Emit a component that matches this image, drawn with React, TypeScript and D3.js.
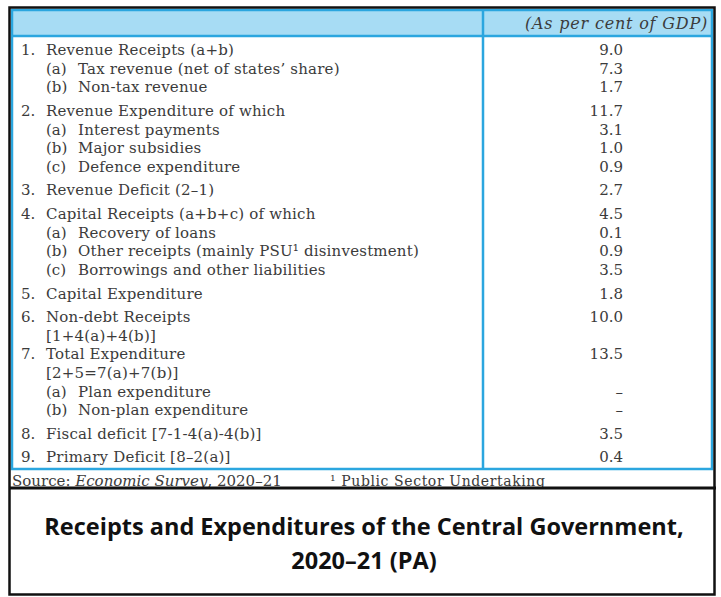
import * as d3 from 'd3';
import React from 'react';

// table content
const itemNumbers = ['1.', '(a)', '(b)', '2.', '(a)', '(b)', '(c)', '3.', '4.', '(a)', '(b)', '(c)', '5.', '6.', '', '7.', '', '(a)', '(b)', '8.', '9.'];
const itemLabels = [
  'Revenue Receipts (a+b)',
  'Tax revenue (net of states\u2019 share)',
  'Non-tax revenue',
  'Revenue Expenditure of which',
  'Interest payments',
  'Major subsidies',
  'Defence expenditure',
  'Revenue Deficit (2\u20131)',
  'Capital Receipts (a+b+c) of which',
  'Recovery of loans',
  'Other receipts (mainly PSU\u00b9 disinvestment)',
  'Borrowings and other liabilities',
  'Capital Expenditure',
  'Non-debt Receipts',
  '[1+4(a)+4(b)]',
  'Total Expenditure',
  '[2+5=7(a)+7(b)]',
  'Plan expenditure',
  'Non-plan expenditure',
  'Fiscal deficit [7-1-4(a)-4(b)]',
  'Primary Deficit [8\u20132(a)]',
];
const gdpShare = ['9.0', '7.3', '1.7', '11.7', '3.1', '1.0', '0.9', '2.7', '4.5', '0.1', '0.9', '3.5', '1.8', '10.0', '', '13.5', '', '\u2013', '\u2013', '3.5', '0.4'];
const headerLabel = '(As per cent of GDP)';
const titleLines = ['Receipts and Expenditures of the Central Government,', '2020\u201321 (PA)'];

const W = 721;
const H = 597;
const blue = '#2ba6df';
const textColor = '#3b3b3b';
const serif = '"DejaVu Serif", serif';

export default function App() {
  // each row takes one line unit, a new numbered item adds a small gap
  // (item 7 sits right under the continuation line of item 6)
  let units = 0;
  const rowUnits = itemNumbers.map((n, i) => {
    if (i > 0) {
      units += 1;
      if (/^\d\.$/.test(n) && n !== '7.') units += 0.27;
    }
    return units;
  });
  const y = d3.scaleLinear().domain([0, 1]).range([50, 68.6]);

  const isMain = (n: string) => n === '' || /^\d\.$/.test(n);

  return (
    <svg
      width={W}
      height={H}
      style={{ position: 'absolute', left: 0, top: 0, background: '#fff' }}
      fontFamily={serif}
    >
      {/* table frame */}
      <rect x={12} y={10} width={700} height={26} fill="#a7dcf4" />
      <rect x={12} y={10} width={700} height={459} fill="none" stroke={blue} strokeWidth={2.5} />
      <line x1={12} x2={712} y1={36} y2={36} stroke={blue} strokeWidth={2.5} />
      <line x1={483} x2={483} y1={10} y2={469} stroke={blue} strokeWidth={2.5} />

      <text x={708} y={23} dy="0.35em" textAnchor="end" fontStyle="italic" fontSize={16} letterSpacing={0.8} fill={textColor}>
        {headerLabel}
      </text>

      {itemLabels.map((label, i) => {
        const n = itemNumbers[i];
        const yy = y(rowUnits[i]);
        return (
          <g key={i} fill={textColor} fontSize={15}>
            {n && (
              <text x={isMain(n) ? 21 : 46} y={yy} dy="0.35em">
                {n}
              </text>
            )}
            <text x={isMain(n) ? 46 : 78} y={yy} dy="0.35em" letterSpacing={0.2}>
              {label}
            </text>
            {gdpShare[i] && (
              <text x={623} y={yy} dy="0.35em" textAnchor="end">
                {gdpShare[i]}
              </text>
            )}
          </g>
        );
      })}

      {/* source and footnote, clipped by the rule below */}
      <text x={12} y={486} fontSize={15} fill={textColor}>
        Source: <tspan fontStyle="italic">Economic Survey</tspan>, 2020{'\u2013'}21
      </text>
      <text x={330} y={485.5} fontSize={14} letterSpacing={0.6} fill={textColor}>
        {'\u00b9'} Public Sector Undertaking
      </text>

      {/* outer black frame and caption box */}
      <rect x={0} y={488} width={W} height={H - 488} fill="#fff" />
      <rect x={9.5} y={7.5} width={705} height={587} fill="none" stroke="#111" strokeWidth={2.5} />
      <line x1={9} x2={716} y1={488} y2={488} stroke="#111" strokeWidth={3} />
      {titleLines.map((t, i) => (
        <text
          key={i}
          x={364}
          y={527 + i * 34}
          dy="0.35em"
          textAnchor="middle"
          fontFamily='"Open Sans", Lato, sans-serif'
          fontWeight={700}
          fontSize={23.5}
          fill="#111"
        >
          {t}
        </text>
      ))}
    </svg>
  );
}
